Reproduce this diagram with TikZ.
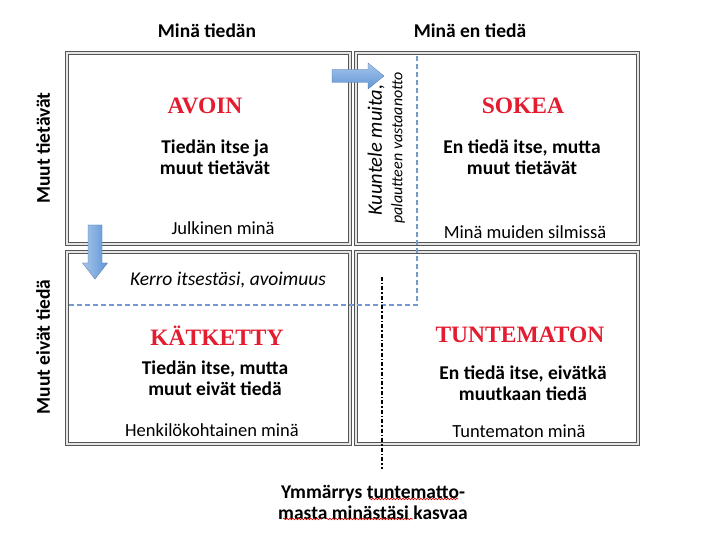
\documentclass[tikz,border=0pt]{standalone}
\usepackage{fontspec}
\setmainfont{Carlito}
\newfontfamily\titlefont{Liberation Serif}
\usetikzlibrary{decorations.pathmorphing}
\definecolor{boxgray}{RGB}{85,85,85}
\definecolor{titlered}{RGB}{228,28,48}
\definecolor{dashblue}{RGB}{115,155,205}
\definecolor{arrowblue}{RGB}{95,150,215}
\begin{document}
\begin{tikzpicture}[x=1pt,y=-1pt,
  quad/.style={draw=boxgray, double=gray!20, line width=1pt, double distance=1.2pt, rectangle, inner sep=0pt},
  header/.style={font=\fontsize{19.5}{23}\bfseries\selectfont},
  sidelabel/.style={font=\fontsize{19.5}{23}\bfseries\selectfont, rotate=90},
  title/.style={font=\titlefont\fontsize{23.5}{26}\bfseries\selectfont, text=titlered},
  body/.style={font=\fontsize{19.5}{21}\bfseries\selectfont, align=center},
  caption/.style={font=\fontsize{18.5}{21}\selectfont},
  hint/.style={font=\fontsize{19.5}{22}\itshape\selectfont},
  vhint/.style={font=\fontsize{20.5}{24}\itshape\selectfont},
  smallhint/.style={font=\fontsize{16}{18}\itshape\selectfont},
  blueline/.style={draw=dashblue, line width=2pt, dash pattern=on 5pt off 3pt},
  blackline/.style={draw=black, line width=2pt, dash pattern=on 4pt off 2pt on 1.5pt off 2pt},
  spell/.style={draw=red!85!black, line width=0.6pt, decorate, decoration={snake, amplitude=0.8pt, segment length=3pt}}
]
\useasboundingbox (0,0) rectangle (702,537);
\fill[white] (0,0) rectangle (702,537);

% headers
\node[header] (h1) at (207,31) {Minä tiedän};
\node[header] (h2) at (470,31) {Minä en tiedä};
\node[sidelabel] (s1) at (43,148) {Muut tietävät};
\node[sidelabel] (s2) at (43,347) {Muut eivät tiedä};

% boxes
\node[quad, minimum width=283pt, minimum height=191pt] (tl) at (208.5,148.5) {};
\node[quad, minimum width=282pt, minimum height=191pt] (tr) at (497,148.5) {};
\node[quad, minimum width=283pt, minimum height=192pt] (bl) at (208.5,348) {};
\node[quad, minimum width=282pt, minimum height=192pt] (br) at (497,348) {};

% dashed blue window line
\coordinate (d1) at (417,56);
\coordinate (d2) at (417,305);
\coordinate (d3) at (69,305);
\draw[blueline] (d1) -- (d2) -- (d3);

% black dash-dot line
\coordinate (k1) at (382,277);
\coordinate (k2) at (382,469);
\draw[blackline] (k1) -- (k2);

% blue arrows
\coordinate (ra) at (332,76);
\shade[top color=arrowblue!55!white, bottom color=arrowblue, draw=arrowblue!80!black, line width=0.3pt]
  (332,69.5) -- (368,69.5) -- (368,63) -- (384,76) -- (368,89) -- (368,82.5) -- (332,82.5) -- cycle;
\coordinate (da) at (95,225);
\shade[left color=arrowblue!55!white, right color=arrowblue, draw=arrowblue!80!black, line width=0.3pt]
  (88,225) -- (102,225) -- (102,263) -- (107.5,263) -- (95,279) -- (82.5,263) -- (88,263) -- cycle;

% top-left
\node[title] (t1) at (205,106) {AVOIN};
\node[body] (b1) at (215,157) {Tiedän itse ja\\muut tietävät};
\node[caption] (c1) at (223,228) {Julkinen minä};

% top-right
\node[title] (t2) at (523,106) {SOKEA};
\node[body] (b2) at (522,157) {En tiedä itse, mutta\\muut tietävät};
\node[caption] (c2) at (525,232) {Minä muiden silmissä};
\node[vhint, rotate=90] (v1) at (376,150) {Kuuntele muita,};
\node[smallhint, rotate=90] (v2) at (398,148) {palautteen vastaanotto};

% bottom-left
\node[hint] (k) at (228,280) {Kerro itsestäsi, avoimuus};
\node[title] (t3) at (217,336) {KÄTKETTY};
\node[body] (b3) at (215,378) {Tiedän itse, mutta\\muut eivät tiedä};
\node[caption] (c3) at (212,430) {Henkilökohtainen minä};

% bottom-right
\node[title] (t4) at (520,335) {TUNTEMATON};
\node[body] (b4) at (523,383) {En tiedä itse, eivätkä\\muutkaan tiedä};
\node[caption] (c4) at (519,431) {Tuntematon minä};

% bottom text
\node[body] (bt) at (373,502) {Ymmärrys tuntematto-\\masta minästäsi kasvaa};
\draw[spell] (369,499) -- (458,499);
\draw[spell] (283,519) -- (322,519);
\draw[spell] (326,519) -- (413,519);
\end{tikzpicture}
\end{document}
